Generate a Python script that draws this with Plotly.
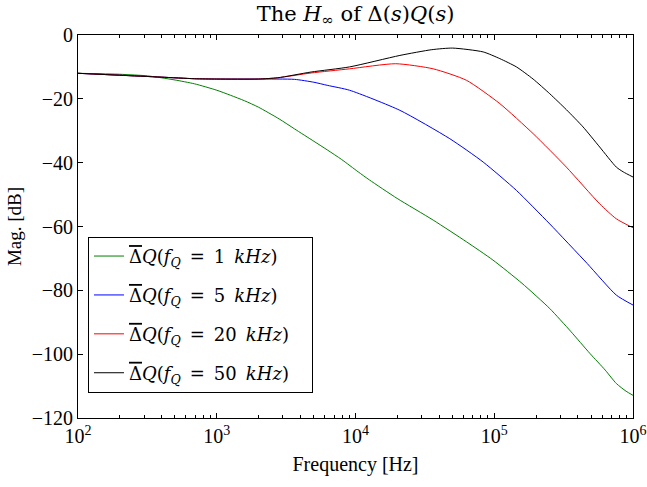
import plotly.graph_objects as go

# ---- data (frequency in Hz, magnitude in dB) ----
f_1k = [100, 200, 316, 398, 501, 692, 1000, 1259, 1585, 1995, 2818, 3631, 5012, 6310,
        7943, 10471, 12589, 19953, 36308, 63096, 97724, 158489, 251189, 354813, 489779,
        630957, 758578, 891251, 1000000]
db_1k = [-12.0, -12.3, -12.8, -13.4, -14.1, -15.3, -17.3, -18.9, -20.6, -22.6, -26.3, -29.4,
         -33.3, -36.1, -39.0, -42.9, -45.4, -51.2, -58.0, -64.8, -70.5, -77.8, -85.7, -92.8,
         -99.8, -105.0, -109.2, -111.6, -112.9]

f_5k = [100, 200, 398, 692, 1000, 1995, 3631, 5012, 6310, 9057, 20893, 47863, 83176,
        144544, 251189, 467735, 758578, 1000000]
db_5k = [-12.0, -12.6, -13.2, -13.7, -13.8, -13.8, -13.9, -14.8, -15.8, -17.3, -23.6, -32.5,
         -39.8, -48.7, -59.2, -71.6, -81.5, -84.6]

f_20k = [100, 200, 398, 692, 1000, 1995, 2754, 4786, 9057, 19498, 36308, 63096, 109648,
         190546, 331131, 575440, 758578, 1000000]
db_20k = [-12.0, -12.6, -13.2, -13.7, -13.8, -13.8, -13.4, -11.9, -10.6, -9.0, -10.6, -14.2,
          -21.5, -30.9, -41.4, -52.9, -57.6, -60.4]

f_50k = [100, 200, 398, 692, 1000, 1995, 2754, 4786, 9057, 20893, 35481, 50119, 83176,
         109648, 144544, 190546, 251189, 331131, 436516, 575440, 758578, 851138, 1000000]
db_50k = [-12.0, -12.6, -13.2, -13.7, -13.8, -13.8, -13.4, -11.6, -10.0, -6.4, -4.6, -4.1,
          -5.3, -7.4, -10.0, -13.8, -18.4, -23.4, -28.8, -35.1, -41.4, -42.9, -44.5]

fq_labels = ["1", "5", "20", "50"]
series_names = [
    "<span style='text-decoration:overline'>Δ</span><i>Q</i>(<i>f</i><sub><i>Q</i></sub>"
    "\u2002=\u2002" + v + "\u2002<i>kHz</i>)\u2002\u2002"
    for v in fq_labels
]
series_colors = ["#008000", "#0000ff", "#ff0000", "#000000"]

x_tickvals = [1e2, 1e3, 1e4, 1e5, 1e6]
x_ticktext = ["10<sup>2</sup>", "10<sup>3</sup>", "10<sup>4</sup>", "10<sup>5</sup>", "10<sup>6</sup>"]
x_minorvals = [m * d for d in (100, 1000, 10000, 100000) for m in range(2, 10)]
y_tickvals = [-120, -100, -80, -60, -40, -20, 0]

SERIF = "Liberation Serif, Times New Roman, serif"
WIDE = "DejaVu Serif, serif"

fig = go.Figure()
for i, (fx, fy) in enumerate([(f_1k, db_1k), (f_5k, db_5k), (f_20k, db_20k), (f_50k, db_50k)]):
    fig.add_trace(go.Scatter(
        x=fx, y=fy, mode="lines", name=series_names[i],
        line=dict(color=series_colors[i], width=1, shape="spline", smoothing=0.6),
        legendgroup=f"g{i}",
    ))

fig.update_layout(
    width=647, height=487,
    margin=dict(l=78, r=14, t=35, b=69, autoexpand=False),
    paper_bgcolor="white", plot_bgcolor="white",
    font=dict(family=SERIF, size=18, color="black"),
    title=dict(text="The <i>H</i><sub>∞</sub> of Δ(<i>s</i>)<i>Q</i>(<i>s</i>)",
               xref="paper", x=0.5, xanchor="center", y=0.988, yanchor="top",
               font=dict(family=WIDE, size=21, color="black")),
    showlegend=True,
    legend=dict(x=0.018, y=0.473, xanchor="left", yanchor="top",
                bgcolor="white", bordercolor="black", borderwidth=1,
                font=dict(family=WIDE, size=18, color="black"),
                tracegroupgap=12.5, itemwidth=30),
)

fig.update_xaxes(
    type="log", range=[2, 6],
    tickvals=x_tickvals, ticktext=x_ticktext,
    ticks="inside", ticklen=5, tickcolor="black",
    minor=dict(tickvals=x_minorvals, ticks="inside", ticklen=3, tickcolor="black", showgrid=False),
    showline=True, linecolor="black", linewidth=1, mirror="ticks",
    showgrid=False, zeroline=False,
    title=dict(text="Frequency [Hz]", font=dict(family=SERIF, size=20), standoff=10),
    tickfont=dict(family=SERIF, size=20),
)
fig.update_yaxes(
    range=[-120, 0], tickvals=y_tickvals,
    ticks="inside", ticklen=5, tickcolor="black",
    showline=True, linecolor="black", linewidth=1, mirror="ticks",
    showgrid=False, zeroline=False,
    title=dict(text="Mag. [dB]", font=dict(family=SERIF, size=19), standoff=5),
    tickfont=dict(family=SERIF, size=20),
)

fig.write_html("out.html", config={"displayModeBar": False},
               post_script="document.body.style.margin='0';")
